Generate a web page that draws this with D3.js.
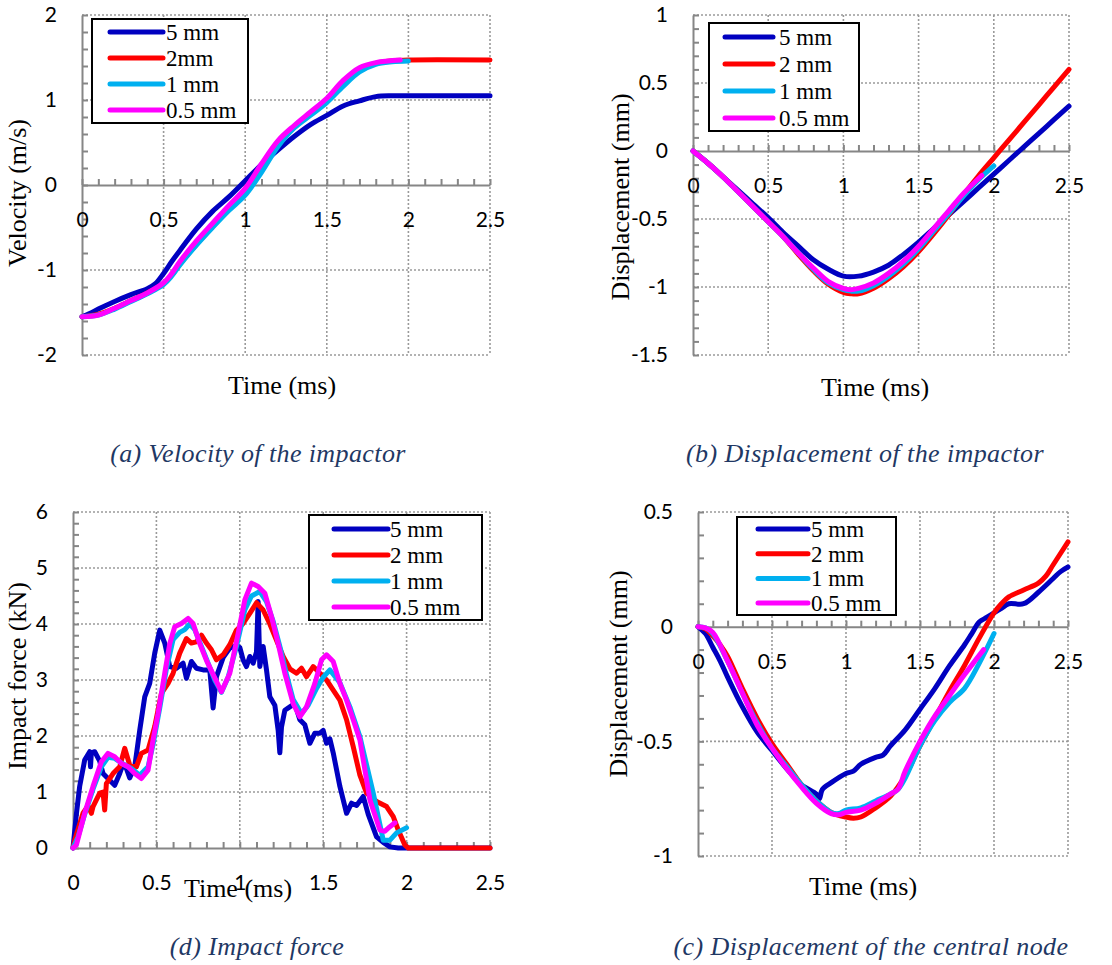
<!DOCTYPE html>
<html>
<head>
<meta charset="utf-8">
<script src="https://cdn.jsdelivr.net/npm/d3@7"></script>
<style>
body { margin: 0; background: #fff; }
</style>
</head>
<body>
<svg id="fig" width="1112" height="965"></svg>
<script>
// series names and colours
var seriesKeys = ["5mm", "2mm", "1mm", "05mm"];
var legendLabelsA = ["5 mm", "2mm", "1 mm", "0.5 mm"];
var legendLabels = ["5 mm", "2 mm", "1 mm", "0.5 mm"];
var seriesColors = ["#0000c0", "#ff0000", "#00b0f0", "#ff00ff"];
var timeTicks = [0, 0.5, 1, 1.5, 2, 2.5];

// (a) velocity of the impactor, m/s
var velocity5mm = [[0,-1.55],[0.05,-1.51],[0.1,-1.46],[0.2,-1.37],[0.3,-1.29],[0.4,-1.22],[0.45,-1.16],[0.5,-1.04],[0.55,-0.9],[0.6,-0.77],[0.7,-0.52],[0.8,-0.31],[0.9,-0.14],[1.0,0.05],[1.1,0.24],[1.2,0.41],[1.3,0.57],[1.4,0.71],[1.5,0.82],[1.6,0.93],[1.7,0.99],[1.8,1.04],[1.9,1.05],[2.0,1.05],[2.5,1.05]];
var velocity2mm = [[0,-1.55],[0.1,-1.52],[0.2,-1.45],[0.3,-1.36],[0.4,-1.27],[0.5,-1.16],[0.55,-1.06],[0.6,-0.93],[0.7,-0.7],[0.8,-0.49],[0.9,-0.28],[1.0,-0.08],[1.1,0.2],[1.2,0.47],[1.3,0.68],[1.4,0.84],[1.5,1.0],[1.6,1.19],[1.7,1.35],[1.8,1.43],[1.9,1.46],[2.0,1.47],[2.5,1.47]];
var velocity1mm = [[0,-1.55],[0.1,-1.53],[0.2,-1.46],[0.3,-1.37],[0.4,-1.28],[0.5,-1.17],[0.55,-1.07],[0.6,-0.94],[0.7,-0.71],[0.8,-0.5],[0.9,-0.3],[1.0,-0.12],[1.1,0.15],[1.2,0.45],[1.3,0.67],[1.4,0.82],[1.5,0.97],[1.6,1.16],[1.7,1.33],[1.8,1.42],[1.9,1.45],[2.0,1.46]];
var velocity05mm = [[0,-1.55],[0.1,-1.53],[0.2,-1.45],[0.3,-1.36],[0.4,-1.27],[0.5,-1.15],[0.55,-1.04],[0.6,-0.9],[0.7,-0.66],[0.8,-0.45],[0.9,-0.24],[1.0,-0.04],[1.1,0.25],[1.2,0.52],[1.3,0.7],[1.4,0.86],[1.5,1.02],[1.6,1.23],[1.7,1.38],[1.8,1.44],[1.95,1.47]];

// (b) displacement of the impactor, mm
var impactorDisp5mm = [[0,0],[0.1,-0.09],[0.2,-0.19],[0.3,-0.29],[0.4,-0.39],[0.5,-0.49],[0.6,-0.6],[0.7,-0.7],[0.8,-0.8],[0.9,-0.87],[1.0,-0.92],[1.1,-0.92],[1.2,-0.89],[1.3,-0.84],[1.4,-0.76],[1.5,-0.67],[1.6,-0.57],[1.7,-0.47],[1.8,-0.37],[1.9,-0.27],[2.0,-0.17],[2.1,-0.07],[2.2,0.03],[2.3,0.13],[2.4,0.23],[2.5,0.33]];
var impactorDisp2mm = [[0,0],[0.1,-0.09],[0.2,-0.19],[0.3,-0.3],[0.4,-0.41],[0.5,-0.52],[0.6,-0.63],[0.7,-0.76],[0.8,-0.88],[0.9,-0.98],[1.0,-1.04],[1.05,-1.05],[1.1,-1.05],[1.2,-1.01],[1.3,-0.94],[1.4,-0.85],[1.5,-0.74],[1.6,-0.61],[1.7,-0.47],[1.8,-0.32],[1.9,-0.18],[2.0,-0.05],[2.1,0.08],[2.2,0.21],[2.3,0.34],[2.4,0.47],[2.5,0.6]];
var impactorDisp1mm = [[0,0],[0.1,-0.09],[0.2,-0.19],[0.3,-0.3],[0.4,-0.41],[0.5,-0.52],[0.6,-0.63],[0.7,-0.75],[0.8,-0.87],[0.9,-0.97],[1.0,-1.02],[1.05,-1.03],[1.1,-1.03],[1.2,-0.99],[1.3,-0.92],[1.4,-0.83],[1.5,-0.72],[1.6,-0.59],[1.7,-0.46],[1.8,-0.33],[1.9,-0.21],[2.0,-0.11]];
var impactorDisp05mm = [[0,0],[0.1,-0.09],[0.2,-0.19],[0.3,-0.3],[0.4,-0.41],[0.5,-0.52],[0.6,-0.63],[0.7,-0.75],[0.8,-0.86],[0.9,-0.96],[1.0,-1.01],[1.05,-1.02],[1.1,-1.01],[1.2,-0.97],[1.3,-0.9],[1.4,-0.81],[1.5,-0.7],[1.6,-0.57],[1.7,-0.44],[1.8,-0.31],[1.92,-0.18]];

// (d) impact force, kN
var force5mm = [[0,0],[0.02,0.6],[0.04,1.1],[0.07,1.57],[0.1,1.72],[0.105,1.45],[0.11,1.7],[0.13,1.72],[0.16,1.55],[0.18,1.33],[0.22,1.21],[0.25,1.12],[0.28,1.33],[0.3,1.5],[0.32,1.42],[0.34,1.25],[0.37,1.45],[0.4,2.1],[0.43,2.7],[0.46,2.94],[0.49,3.48],[0.52,3.89],[0.55,3.66],[0.58,3.24],[0.62,3.21],[0.66,3.3],[0.68,3.03],[0.71,3.33],[0.74,3.21],[0.78,3.18],[0.82,3.18],[0.84,2.5],[0.86,3.06],[0.9,3.4],[0.94,3.57],[0.98,3.62],[1.0,3.58],[1.02,3.36],[1.04,3.24],[1.06,3.42],[1.08,3.3],[1.1,3.5],[1.11,4.4],[1.12,3.24],[1.14,3.6],[1.16,3.18],[1.18,2.7],[1.21,2.55],[1.23,2.1],[1.24,1.7],[1.25,2.16],[1.27,2.46],[1.3,2.52],[1.33,2.58],[1.36,2.29],[1.39,2.2],[1.42,1.87],[1.45,2.05],[1.48,2.05],[1.5,2.1],[1.52,1.87],[1.54,1.95],[1.56,1.7],[1.6,1.1],[1.64,0.62],[1.67,0.8],[1.7,0.76],[1.74,0.92],[1.77,0.6],[1.82,0.2],[1.86,0.1],[1.9,0.02],[1.95,0],[2.5,0]];
var force2mm = [[0,0],[0.01,0.14],[0.06,0.62],[0.09,0.75],[0.11,0.62],[0.12,0.74],[0.16,0.98],[0.18,1.0],[0.19,0.68],[0.2,1.15],[0.24,1.33],[0.28,1.45],[0.31,1.78],[0.34,1.48],[0.38,1.45],[0.41,1.69],[0.45,1.75],[0.49,2.17],[0.53,2.76],[0.57,2.94],[0.6,3.12],[0.64,3.48],[0.68,3.74],[0.71,3.66],[0.74,3.68],[0.77,3.8],[0.8,3.66],[0.83,3.54],[0.86,3.36],[0.9,3.45],[0.94,3.63],[0.98,3.89],[1.02,4.01],[1.06,4.19],[1.1,4.38],[1.14,4.25],[1.18,4.0],[1.22,3.71],[1.26,3.42],[1.3,3.2],[1.34,3.12],[1.37,3.21],[1.4,3.06],[1.44,3.24],[1.48,3.12],[1.52,3.0],[1.56,2.82],[1.6,2.64],[1.64,2.29],[1.68,1.81],[1.72,1.3],[1.76,0.98],[1.82,0.83],[1.88,0.74],[1.92,0.56],[1.95,0.32],[1.99,0.05],[2.01,0],[2.5,0]];
var force1mm = [[0,0],[0.03,0.2],[0.07,0.6],[0.12,1.05],[0.17,1.45],[0.21,1.62],[0.25,1.6],[0.3,1.5],[0.35,1.42],[0.4,1.3],[0.45,1.45],[0.48,1.85],[0.52,2.5],[0.56,3.2],[0.6,3.72],[0.64,3.85],[0.67,3.9],[0.7,4.0],[0.73,3.9],[0.77,3.6],[0.81,3.3],[0.85,3.0],[0.89,2.78],[0.93,3.05],[0.98,3.6],[1.03,4.25],[1.07,4.5],[1.12,4.58],[1.16,4.4],[1.2,4.05],[1.24,3.6],[1.28,3.1],[1.32,2.65],[1.37,2.4],[1.41,2.55],[1.46,2.85],[1.5,3.05],[1.54,3.18],[1.6,2.95],[1.66,2.52],[1.72,1.99],[1.8,0.98],[1.86,0.14],[1.9,0.14],[1.94,0.27],[2.0,0.36]];
var force05mm = [[0,0],[0.02,0.05],[0.07,0.62],[0.12,1.1],[0.17,1.54],[0.21,1.69],[0.25,1.63],[0.29,1.51],[0.33,1.45],[0.37,1.33],[0.41,1.24],[0.45,1.39],[0.48,1.93],[0.51,2.4],[0.55,3.12],[0.58,3.65],[0.61,3.95],[0.65,4.01],[0.69,4.1],[0.72,4.01],[0.76,3.65],[0.8,3.35],[0.84,3.1],[0.89,2.79],[0.94,3.12],[0.99,3.83],[1.03,4.43],[1.07,4.73],[1.11,4.67],[1.15,4.55],[1.19,4.13],[1.23,3.65],[1.27,3.12],[1.32,2.58],[1.36,2.34],[1.4,2.52],[1.45,2.94],[1.49,3.36],[1.52,3.45],[1.56,3.33],[1.6,2.94],[1.64,2.64],[1.68,2.29],[1.72,1.93],[1.78,0.86],[1.84,0.32],[1.87,0.3],[1.9,0.38],[1.93,0.45]];

// (c) displacement of the central node, mm
var nodeDisp5mm = [[0,0],[0.05,-0.03],[0.1,-0.09],[0.15,-0.15],[0.2,-0.22],[0.3,-0.35],[0.4,-0.46],[0.5,-0.54],[0.6,-0.62],[0.7,-0.69],[0.8,-0.73],[0.82,-0.75],[0.84,-0.71],[0.9,-0.68],[1.0,-0.64],[1.05,-0.63],[1.1,-0.6],[1.2,-0.57],[1.25,-0.56],[1.3,-0.52],[1.4,-0.45],[1.5,-0.36],[1.6,-0.27],[1.7,-0.17],[1.8,-0.08],[1.85,-0.03],[1.9,0.02],[1.95,0.04],[2.0,0.06],[2.05,0.08],[2.1,0.1],[2.2,0.1],[2.3,0.15],[2.4,0.21],[2.45,0.24],[2.5,0.26]];
var nodeDisp2mm = [[0,0],[0.05,-0.01],[0.1,-0.04],[0.15,-0.08],[0.2,-0.13],[0.3,-0.27],[0.4,-0.4],[0.5,-0.51],[0.6,-0.6],[0.7,-0.69],[0.8,-0.76],[0.9,-0.81],[1.0,-0.83],[1.05,-0.835],[1.1,-0.83],[1.2,-0.79],[1.3,-0.74],[1.4,-0.65],[1.5,-0.52],[1.6,-0.4],[1.7,-0.28],[1.8,-0.17],[1.9,-0.05],[2.0,0.06],[2.05,0.1],[2.1,0.13],[2.2,0.16],[2.3,0.19],[2.35,0.22],[2.4,0.27],[2.5,0.37]];
var nodeDisp1mm = [[0,0],[0.05,-0.005],[0.1,-0.03],[0.2,-0.15],[0.3,-0.29],[0.4,-0.42],[0.5,-0.53],[0.6,-0.61],[0.7,-0.69],[0.8,-0.76],[0.9,-0.81],[0.95,-0.815],[1.0,-0.8],[1.1,-0.79],[1.2,-0.76],[1.3,-0.73],[1.35,-0.71],[1.4,-0.66],[1.5,-0.52],[1.6,-0.41],[1.7,-0.33],[1.8,-0.27],[1.9,-0.16],[2.0,-0.03]];
var nodeDisp05mm = [[0,0],[0.05,-0.005],[0.1,-0.025],[0.2,-0.15],[0.3,-0.29],[0.4,-0.43],[0.5,-0.53],[0.6,-0.62],[0.7,-0.7],[0.8,-0.77],[0.9,-0.815],[0.95,-0.82],[1.0,-0.81],[1.1,-0.8],[1.2,-0.77],[1.3,-0.73],[1.35,-0.71],[1.4,-0.63],[1.5,-0.5],[1.6,-0.39],[1.7,-0.3],[1.8,-0.21],[1.93,-0.1]];

var svg = d3.select("#fig");
var tickFont = "Lato, 'Open Sans', sans-serif";
var serif = "'Liberation Serif', 'DejaVu Serif', serif";

var panels = [
	{ left: 82, right: 490, top: 15, bottom: 355, yDomain: [-2, 2], major: 1, minor: 0.2,
	  series: [velocity5mm, velocity2mm, velocity1mm, velocity05mm], curve: d3.curveCatmullRom,
	  yTitle: "Velocity (m/s)", yTitleX: 17, yTitleY: 193, xTitleX: 282, xTitleY: 394,
	  legend: { x0: 92, y0: 19, x1: 248, y1: 123, l0: 110, l1: 163, tx: 166, ry: 32, dy: 26, labels: legendLabelsA },
	  caption: "(a) Velocity of the impactor", capX: 258, capY: 462 },
	{ left: 693, right: 1069, top: 15, bottom: 355, yDomain: [-1.5, 1], major: 0.5, minor: 0.1,
	  series: [impactorDisp5mm, impactorDisp2mm, impactorDisp1mm, impactorDisp05mm], curve: d3.curveCatmullRom,
	  yTitle: "Displacement (mm)", yTitleX: 620, yTitleY: 197, xTitleX: 875, xTitleY: 396,
	  legend: { x0: 709, y0: 23, x1: 859, y1: 131, l0: 725, l1: 773, tx: 779, ry: 37, dy: 27, labels: legendLabels },
	  caption: "(b) Displacement of the impactor", capX: 865, capY: 462 },
	{ left: 73, right: 490, top: 512, bottom: 848, yDomain: [0, 6], major: 1, minor: 0.2,
	  series: [force5mm, force2mm, force1mm, force05mm], curve: d3.curveLinear,
	  yTitle: "Impact force (kN)", yTitleX: 17, yTitleY: 676, xTitleX: 238, xTitleY: 897,
	  legend: { x0: 309, y0: 515, x1: 482, y1: 620, l0: 334, l1: 388, tx: 390, ry: 529, dy: 26, labels: legendLabels },
	  caption: "(d) Impact force", capX: 257, capY: 955 },
	{ left: 698, right: 1068, top: 512, bottom: 856, yDomain: [-1, 0.5], major: 0.5, minor: 0.1,
	  series: [nodeDisp5mm, nodeDisp2mm, nodeDisp1mm, nodeDisp05mm], curve: d3.curveCatmullRom,
	  yTitle: "Displacement (mm)", yTitleX: 618, yTitleY: 674, xTitleX: 863, xTitleY: 895,
	  legend: { x0: 737, y0: 517, x1: 896, y1: 615, l0: 758, l1: 808, tx: 811, ry: 529, dy: 24.7, labels: legendLabels },
	  caption: "(c) Displacement of the central node", capX: 871, capY: 955 }
];

function stepValues(lo, hi, step) {
	var n = Math.round((hi - lo) / step);
	return d3.range(n + 1).map(function(i){ return +(lo + i * step).toFixed(4); });
}

function drawPanel(p) {
	var x = d3.scaleLinear().domain([0, 2.5]).range([p.left, p.right]);
	var y = d3.scaleLinear().domain(p.yDomain).range([p.bottom, p.top]);
	var g = svg.append("g");

	var yMajor = stepValues(p.yDomain[0], p.yDomain[1], p.major);
	var yMinor = stepValues(p.yDomain[0], p.yDomain[1], p.minor);
	var xMinor = stepValues(0, 2.5, 0.1);

	// dotted grid
	var grid = g.append("g")
		.attr("stroke", "#9a9a9a")
		.attr("stroke-width", 1.6)
		.attr("stroke-dasharray", "2,2");
	grid.selectAll(".gx").data(timeTicks.filter(function(d){ return d > 0; }))
		.enter().append("line")
		.attr("x1", function(d){ return x(d); }).attr("x2", function(d){ return x(d); })
		.attr("y1", y.range()[1]).attr("y2", y.range()[0]);
	grid.selectAll(".gy").data(yMajor.filter(function(d){ return d !== 0; }))
		.enter().append("line")
		.attr("x1", x(0)).attr("x2", x(2.5))
		.attr("y1", function(d){ return y(d); }).attr("y2", function(d){ return y(d); });

	// y axis with minor ticks
	var yAxisGroup = g.append("g")
		.attr("transform", "translate(" + x(0) + ",0)")
		.call(d3.axisLeft(y).tickValues(yMinor).tickSize(-6).tickSizeOuter(0).tickFormat(""));
	// x axis at zero with minor ticks
	var xAxisGroup = g.append("g")
		.attr("transform", "translate(0," + y(0) + ")")
		.call(d3.axisTop(x).tickValues(xMinor).tickSize(6).tickSizeOuter(0).tickFormat(""));
	[yAxisGroup, xAxisGroup].forEach(function(a){
		a.selectAll("path, line").attr("stroke", "#868686").attr("stroke-width", 2);
	});

	// tick labels
	var yLabels = g.append("g")
		.attr("transform", "translate(" + x(0) + ",0)")
		.call(d3.axisLeft(y).tickValues(yMajor).tickSize(0).tickPadding(25)
			.tickFormat(function(d){ return String(d); }));
	var xLabels = g.append("g")
		.attr("transform", "translate(0," + y(0) + ")")
		.call(d3.axisBottom(x).tickValues(timeTicks).tickSize(0).tickPadding(27)
			.tickFormat(function(d){ return String(d); }));
	[yLabels, xLabels].forEach(function(a){
		a.select(".domain").remove();
		a.attr("font-family", tickFont).attr("font-size", 21);
		a.selectAll("text").attr("fill", "#000");
	});

	// series
	var line = d3.line()
		.x(function(d){ return x(d[0]); })
		.y(function(d){ return y(d[1]); })
		.curve(p.curve);
	g.selectAll(".series").data(p.series)
		.enter().append("path")
		.attr("fill", "none")
		.attr("stroke", function(d, i){ return seriesColors[i]; })
		.attr("stroke-width", 5)
		.attr("stroke-linejoin", "round")
		.attr("stroke-linecap", "round")
		.attr("d", line);

	// legend
	var L = p.legend;
	var lg = g.append("g");
	lg.append("rect")
		.attr("x", L.x0).attr("y", L.y0)
		.attr("width", L.x1 - L.x0).attr("height", L.y1 - L.y0)
		.attr("fill", "#fff").attr("stroke", "#000").attr("stroke-width", 2);
	var rows = lg.selectAll(".row").data(seriesKeys)
		.enter().append("g")
		.attr("transform", function(d, i){ return "translate(0," + (L.ry + i * L.dy) + ")"; });
	rows.append("line")
		.attr("x1", L.l0).attr("x2", L.l1)
		.attr("stroke", function(d, i){ return seriesColors[i]; })
		.attr("stroke-width", 5).attr("stroke-linecap", "round");
	rows.append("text")
		.attr("x", L.tx).attr("dy", "0.35em")
		.attr("font-family", serif).attr("font-size", 23)
		.text(function(d, i){ return L.labels[i]; });

	// axis titles
	g.append("text")
		.attr("transform", "translate(" + p.yTitleX + "," + p.yTitleY + ") rotate(-90)")
		.attr("text-anchor", "middle").attr("dy", "0.35em")
		.attr("font-family", serif).attr("font-size", 26)
		.text(p.yTitle);
	g.append("text")
		.attr("x", p.xTitleX).attr("y", p.xTitleY)
		.attr("text-anchor", "middle")
		.attr("font-family", serif).attr("font-size", 26)
		.text("Time (ms)");

	// caption
	g.append("text")
		.attr("x", p.capX).attr("y", p.capY)
		.attr("text-anchor", "middle")
		.attr("font-family", serif).attr("font-size", 26)
		.attr("letter-spacing", 0.4)
		.attr("font-style", "italic")
		.attr("fill", "#1f3864")
		.text(p.caption);
}

panels.forEach(drawPanel);
</script>
</body>
</html>
